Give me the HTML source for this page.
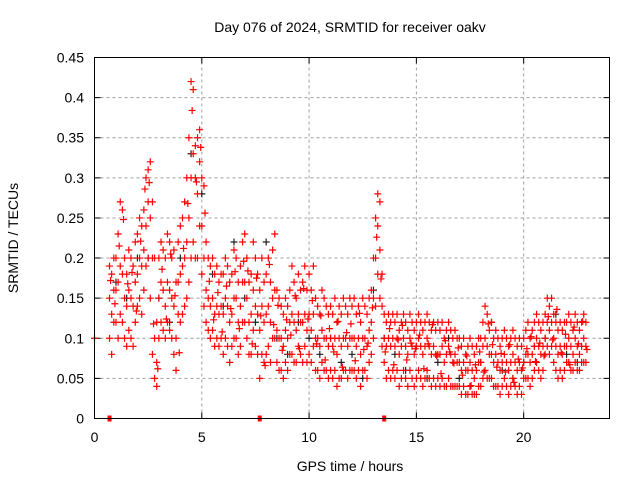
<!DOCTYPE html>
<html><head><meta charset="utf-8">
<style>
html,body{margin:0;padding:0;background:#fff;}
svg{display:block;font-family:"Liberation Sans",sans-serif;}
</style></head>
<body>
<svg id="chart" width="640" height="480" viewBox="0 0 640 480" xmlns="http://www.w3.org/2000/svg">
<text x="350" y="32" font-size="14" text-anchor="middle" fill="#000">Day 076 of 2024, SRMTID for receiver oakv</text>
<text x="350" y="471" font-size="14" text-anchor="middle" fill="#000">GPS time / hours</text>
<text transform="translate(18,238) rotate(-90)" font-size="14" text-anchor="middle" fill="#000">SRMTID / TECUs</text>
<g id="grid"></g>
<g id="ticks"></g>
<g id="marks"></g>
<rect x="94.5" y="57.5" width="515" height="361" fill="none" stroke="#000" stroke-width="1"/>
</svg>
<script>
const xTicks=[0,5,10,15,20];
const yTicks=[0,0.05,0.1,0.15,0.2,0.25,0.3,0.35,0.4,0.45];
const yTickLabels=["0","0.05","0.1","0.15","0.2","0.25","0.3","0.35","0.4","0.45"];
const redStart=0.7, redStep=0.1;
const redHi=[.19,.18,.2,
.2,.23,.27,.26,.2,.18,.21,.2,.19,.22,
.23,.25,.24,.26,.3,.31,.32,.27,.2,.12,
.2,.22,.21,.2,.23,.22,.2,.21,.17,.22,
.24,.25,.27,.3,.35,.42,.41,.34,.35,.36,
.3,.29,.22,.2,.19,.2,.18,.19,.17,.18,
.18,.2,.19,.17,.18,.21,.2,.17,.19,.22,
.23,.2,.17,.18,.22,.2,.18,.16,.2,.17,
.18,.2,.17,.21,.23,.16,.15,.14,.13,.15,
.14,.16,.19,.17,.15,.18,.16,.17,.19,.16,
.18,.16,.19,.15,.14,.13,.16,.15,.14,.13,
.14,.13,.15,.12,.14,.13,.15,.14,.13,.15,
.14,.15,.13,.14,.12,.15,.14,.13,.15,.16,
.2,.25,.28,.27,.18,.13,.12,.13,.12,.13,
.12,.13,.11,.12,.13,.12,.11,.13,.12,.11,
.12,.13,.12,.11,.12,.13,.12,.11,.12,.11,
.12,.11,.12,.1,.11,.12,.11,.1,.11,.1,
.1,.09,.1,.08,.09,.1,.09,.08,.09,.1,
.1,.12,.14,.13,.11,.12,.1,.11,.1,.09,
.1,.11,.1,.09,.1,.11,.1,.09,.1,.09,
.1,.11,.12,.1,.11,.12,.13,.12,.11,.12,
.13,.15,.14,.15,.13,.12,.11,.12,.11,.12,
.12,.13,.12,.11,.13,.12,.11,.12,.13,.12];
const redMid=[.15,.13,.16,
.16,.17,.19,.18,.15,.14,.16,.15,.14,.17,
.18,.2,.19,.21,.24,.27,.25,.2,.1,.07,
.15,.17,.16,.14,.17,.16,.15,.14,.1,.17,
.18,.19,.2,.22,.25,.3,.33,.3,.28,.32,
.24,.2,.16,.15,.14,.15,.13,.14,.13,.14,
.13,.15,.14,.12,.13,.15,.15,.12,.14,.17,
.17,.15,.12,.13,.16,.14,.13,.11,.14,.12,
.13,.14,.12,.15,.16,.11,.1,.1,.09,.11,
.1,.12,.13,.12,.11,.13,.12,.12,.13,.11,
.13,.11,.13,.1,.1,.09,.11,.1,.1,.09,
.1,.09,.1,.08,.1,.09,.1,.1,.09,.1,
.1,.1,.09,.1,.08,.1,.1,.09,.11,.12,
.15,.2,.24,.21,.14,.1,.09,.1,.09,.1,
.09,.1,.08,.09,.1,.09,.08,.1,.09,.08,
.09,.1,.09,.08,.09,.1,.09,.08,.09,.08,
.08,.08,.09,.07,.08,.09,.08,.07,.08,.07,
.07,.06,.07,.06,.06,.07,.06,.05,.06,.07,
.07,.09,.1,.09,.08,.08,.07,.08,.07,.06,
.07,.08,.07,.06,.07,.08,.07,.06,.07,.06,
.07,.08,.08,.07,.08,.09,.1,.09,.08,.09,
.1,.12,.11,.12,.1,.09,.08,.09,.08,.09,
.09,.1,.09,.08,.1,.09,.08,.09,.1,.09];
const redLo=[.1,.08,.12,
.12,.1,.13,.12,.1,.09,.11,.1,.09,.12,
.14,.15,.13,.16,.19,.2,.15,.08,.05,.04,
.1,.12,.11,.1,.12,.11,.1,.08,.06,.13,
.12,.13,.14,.15,.17,.2,.22,.2,.2,.24,
.18,.14,.12,.11,.1,.11,.09,.1,.09,.1,
.08,.1,.09,.07,.09,.1,.1,.08,.09,.12,
.12,.1,.08,.08,.11,.09,.08,.05,.08,.07,
.08,.09,.07,.1,.1,.07,.06,.06,.05,.07,
.06,.08,.08,.07,.07,.09,.08,.07,.09,.07,
.08,.07,.09,.06,.06,.05,.07,.06,.06,.05,
.06,.05,.06,.04,.05,.05,.06,.06,.05,.06,
.06,.06,.05,.06,.04,.06,.06,.05,.07,.08,
.1,.14,.18,.15,.09,.07,.05,.06,.05,.06,
.05,.06,.04,.05,.06,.05,.04,.06,.05,.04,
.05,.06,.05,.04,.05,.06,.05,.04,.05,.04,
.05,.04,.05,.04,.04,.05,.04,.04,.04,.04,
.04,.03,.04,.03,.03,.04,.03,.03,.03,.04,
.04,.05,.06,.05,.05,.05,.04,.04,.04,.03,
.04,.05,.04,.03,.04,.05,.04,.03,.04,.03,
.05,.05,.05,.04,.05,.06,.07,.06,.05,.06,
.08,.09,.08,.09,.07,.06,.05,.06,.05,.06,
.07,.07,.06,.06,.07,.06,.06,.07,.07,.07];
const red2Start=0.75, red2Step=0.2;
const redExtra=[.172,.143,
.215,.248,.168,.182,.134,.221,.286,.294,.118,.062,
.186,.124,.205,.153,.082,.212,.268,.384,.295,.338,
.256,.171,.123,.157,.108,.165,.137,.183,.112,.196,
.184,.093,.175,.128,.066,.192,.117,.141,.085,.123,
.104,.153,.087,.162,.124,.147,.093,.128,.073,.112,
.083,.121,.064,.107,.118,.072,.131,.086,.094,.138,
.226,.174,.083,.112,.067,.098,.116,.073,.094,.087,
.104,.062,.093,.117,.078,.056,.097,.083,.069,.088,
.054,.078,.041,.067,.083,.058,.118,.092,.064,.081,
.058,.092,.045,.074,.063,.087,.102,.071,.094,.078,
.127,.098,.136,.082,.105,.067,.114,.093,.121,.086];
const blackStart=1.0, blackStep=0.5;
const blackVals=[.17,.15,.2,.2,.15,.12,.2,.33,.28,.18,.14,.22,.15,.12,.22,.1,.08,.12,.1,.08,.1,.07,.08,.05,.16,.1,.08,.06,.09,.05,.07,.1,.05,.04,.07,.12,.06,.05,.07,.09,.1,.13,.08,.07];
const zeroTimes=[0.7,7.7,13.5];
const extraT=[0]; const extraV=[0.1];

const NS="http://www.w3.org/2000/svg";
const X0=94.5,X1=609.5,Y0=418.5,Y1=57.5;
function xs(t){return X0+(t/24)*(X1-X0);}
function ys(v){return Y0-(v/0.45)*(Y0-Y1);}
function mk(tag,attrs,parent){const e=document.createElementNS(NS,tag);for(const k in attrs)e.setAttribute(k,attrs[k]);parent.appendChild(e);return e;}
const grid=document.getElementById('grid'),ticks=document.getElementById('ticks'),marks=document.getElementById('marks');
yTicks.forEach((v,i)=>{
  const y=ys(v);
  if(i>0&&i<yTicks.length-1){const g=mk('line',{x1:X0,x2:X1,y1:y,y2:y,stroke:'#a0a0a0','stroke-dasharray':'3,3'},grid);
  
  }
  const tk=mk('path',{d:`M${X0} ${y}h6M${X1} ${y}h-6`,stroke:'#000'},ticks);
  
  
  const lb=mk('text',{x:84,y:y+5,'font-size':14,'text-anchor':'end'},ticks);lb.textContent=yTickLabels[i];
  
  
});
xTicks.forEach((t,i)=>{
  const x=xs(t);
  if(i>0){const g=mk('line',{x1:x,x2:x,y1:Y0,y2:Y1,stroke:'#a0a0a0','stroke-dasharray':'3,3'},grid);
  
  }
  const tk=mk('path',{d:`M${x} ${Y0}v-6M${x} ${Y1}v6`,stroke:'#000'},ticks);
  
  
  const lb=mk('text',{x:x,y:442,'font-size':14,'text-anchor':'middle'},ticks);lb.textContent=String(t);
  
  
});
function plus(t,v,color,name){
  const x=xs(t),y=ys(v);
  const p=mk('path',{d:`M${x-3.5} ${y}h7M${x} ${y-3.5}v7`,stroke:color,'stroke-width':1.2,fill:'none'},marks);
  
  
}
blackVals.forEach((v,i)=>plus(blackStart+i*blackStep,v,'#202020','black-point'));
[redHi,redMid,redLo].forEach(arr=>arr.forEach((v,i)=>plus(redStart+i*redStep,v,'#ff0000','red-point')));
redExtra.forEach((v,i)=>plus(red2Start+i*red2Step,v,'#ff0000','red-point'));
extraT.forEach((t,i)=>plus(t,extraV[i],'#ff0000','red-point'));
zeroTimes.forEach(t=>{
  const r=mk('rect',{x:xs(t)-2,y:Y0-3,width:4,height:6,fill:'#ff0000'},marks);
  
  
});
</script>
</body></html>
